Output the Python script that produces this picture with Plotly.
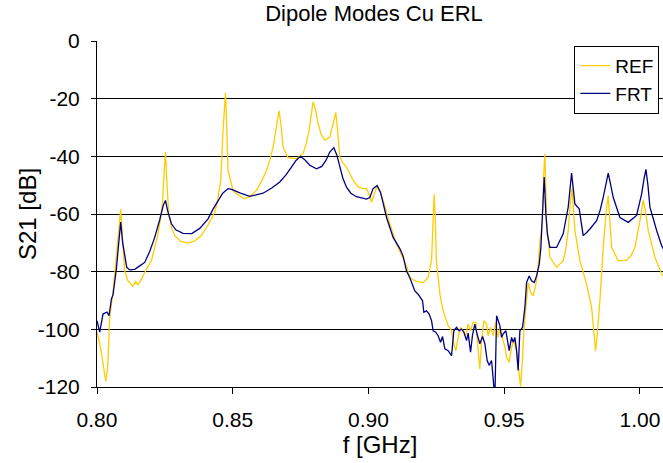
import plotly.graph_objects as go

# ---- data (frequency in GHz, S21 in dB) ----
ref_f = [0.80000, 0.80100, 0.80192, 0.80321, 0.80394, 0.80468, 0.80579, 0.80715, 0.80800, 0.80873,
         0.80947, 0.81021, 0.81131, 0.81316, 0.81426, 0.81500, 0.81574, 0.81695, 0.81832, 0.82005,
         0.82126, 0.82248, 0.82348, 0.82410, 0.82477, 0.82521, 0.82569, 0.82642, 0.82753, 0.82863,
         0.83085, 0.83354, 0.83600, 0.83847, 0.84080, 0.84338, 0.84448, 0.84559, 0.84643, 0.84732,
         0.84780, 0.84828, 0.84890, 0.85012, 0.85137, 0.85443, 0.85627, 0.85874, 0.86070, 0.86243,
         0.86365, 0.86486, 0.86604, 0.86707, 0.86788, 0.86855, 0.87039, 0.87348, 0.87592, 0.87710,
         0.87813, 0.87894, 0.87960, 0.88041, 0.88144, 0.88262, 0.88391, 0.88576, 0.88686, 0.88797,
         0.88871, 0.88944, 0.89055, 0.89191, 0.89434, 0.89608, 0.89803, 0.89928, 0.90032, 0.90113,
         0.90216, 0.90319, 0.90437, 0.90540, 0.90787, 0.91034, 0.91277, 0.91402, 0.91524, 0.91771,
         0.92014, 0.92198, 0.92324, 0.92371, 0.92419, 0.92464, 0.92500, 0.92630, 0.92751, 0.92935,
         0.93061, 0.93145, 0.93219, 0.93304, 0.93392, 0.93488, 0.93577, 0.93672, 0.93761, 0.93857,
         0.93956, 0.94041, 0.94103, 0.94166, 0.94251, 0.94350, 0.94409, 0.94498, 0.94594, 0.94693,
         0.94778, 0.94841, 0.94940, 0.95025, 0.95088, 0.95183, 0.95272, 0.95357, 0.95456, 0.95541,
         0.95603, 0.95677, 0.95725, 0.95799, 0.95884, 0.95972, 0.96068, 0.96167, 0.96252, 0.96314,
         0.96414, 0.96462, 0.96499, 0.96562, 0.96683, 0.96930, 0.97173, 0.97273, 0.97358, 0.97439,
         0.97494, 0.97549, 0.97604, 0.97789, 0.98035, 0.98220, 0.98305, 0.98367, 0.98434, 0.98526,
         0.98648, 0.98747, 0.98832, 0.98894, 0.98957, 0.99200, 0.99510, 0.99668, 0.99815, 1.00000,
         1.00122, 1.00203, 1.00306, 1.00553, 1.00800, 1.00922]
ref_db = [-101, -105, -110, -118, -113, -96, -88, -74, -64, -58.4,
          -70, -79.7, -83, -85, -83.5, -84.5, -83.7, -81.4, -79, -76.2,
          -72, -66.8, -61, -56.4, -45, -38.5, -48, -60, -65, -67.5,
          -69.5, -70.1, -69.3, -67.5, -64, -59.4, -55, -48.3, -31, -18,
          -30, -44.9, -47.2, -51.8, -53, -54.7, -54, -51.8, -48.5, -44.9,
          -41.5, -36.8, -30, -24.2, -30, -36.8, -40.5, -40.8, -39, -35.5,
          -31, -25, -21.1, -23.5, -28.6, -32.5, -34.4, -33.3, -29.5, -24.8,
          -32, -40.2, -42.3, -43.7, -48.3, -50.5, -51.2, -51.2, -53.5, -55.9,
          -53, -50.4, -52.5, -55.3, -63.4, -70.4, -75.5, -78, -82.1, -83.4,
          -83.8, -82, -76, -62, -53.2, -62, -76, -87.8, -93.6, -98.7,
          -100.5, -105, -107.4, -102.8, -99.3, -100.5, -102.2, -98.2, -100.5, -97.6,
          -97.6, -107.4, -113.7, -103.9, -97, -98.2, -102.2, -99.3, -102.2, -97.6,
          -102.8, -99.3, -102.8, -106.2, -109.7, -111.4, -106.2, -103.9, -107.4, -115.4,
          -119.8, -109.7, -100.5, -92.4, -83.8, -87.2, -88.4, -84.4, -77.5, -70,
          -62, -45, -39.1, -62.3, -75, -78.5, -76.2, -72, -65.7, -56,
          -51.2, -58, -65.7, -76.2, -84.3, -92.4, -101, -107.5, -101, -90.1,
          -71.6, -60, -53.6, -62, -71.6, -76.2, -76, -74.5, -71.6, -62.3,
          -55.3, -59, -65.7, -75, -80.8, -82]

frt_f = [0.80000, 0.80100, 0.80221, 0.80369, 0.80442, 0.80531, 0.80590, 0.80715, 0.80781, 0.80873,
         0.80947, 0.81021, 0.81095, 0.81205, 0.81389, 0.81574, 0.81758, 0.81942, 0.82126, 0.82311,
         0.82440, 0.82521, 0.82606, 0.82742, 0.82900, 0.83169, 0.83490, 0.83785, 0.84091, 0.84264,
         0.84459, 0.84632, 0.84828, 0.84964, 0.85259, 0.85627, 0.86118, 0.86438, 0.86733, 0.86954,
         0.87164, 0.87323, 0.87496, 0.87654, 0.87839, 0.88086, 0.88281, 0.88428, 0.88576, 0.88723,
         0.88834, 0.88944, 0.89055, 0.89191, 0.89350, 0.89560, 0.89755, 0.89928, 0.90050, 0.90171,
         0.90319, 0.90444, 0.90547, 0.90665, 0.90909, 0.91155, 0.91277, 0.91402, 0.91524, 0.91708,
         0.91830, 0.91992, 0.92040, 0.92139, 0.92235, 0.92324, 0.92382, 0.92481, 0.92567, 0.92655,
         0.92729, 0.92814, 0.92935, 0.93061, 0.93145, 0.93245, 0.93341, 0.93429, 0.93514, 0.93614,
         0.93672, 0.93761, 0.93835, 0.93919, 0.94004, 0.94103, 0.94203, 0.94288, 0.94373, 0.94446,
         0.94535, 0.94594, 0.94657, 0.94720, 0.94778, 0.94841, 0.94903, 0.94962, 0.95062, 0.95110,
         0.95183, 0.95272, 0.95331, 0.95393, 0.95456, 0.95515, 0.95577, 0.95677, 0.95762, 0.95824,
         0.95920, 0.96009, 0.96105, 0.96193, 0.96289, 0.96352, 0.96414, 0.96473, 0.96536, 0.96591,
         0.96683, 0.96930, 0.97173, 0.97358, 0.97483, 0.97604, 0.97763, 0.97844, 0.97910, 0.98028,
         0.98157, 0.98404, 0.98526, 0.98648, 0.98747, 0.98832, 0.98913, 0.99016, 0.99263, 0.99569,
         0.99878, 1.00063, 1.00147, 1.00221, 1.00295, 1.00369, 1.00616, 1.00800, 1.00922]
frt_db = [-97, -101, -94.7, -94, -95.3, -89.5, -88, -79, -72, -62.8,
          -70, -75, -78.5, -79.4, -79.2, -78, -76.8, -73, -68.1, -62,
          -57, -55.3, -59, -63.4, -65.5, -66.7, -66.8, -65, -61.7, -58.5,
          -55.3, -52.8, -51.2, -51.5, -52.7, -53.9, -52.8, -51, -48.9, -46.5,
          -43.7, -41.5, -40, -41.2, -43.1, -44.3, -43.5, -41.5, -38.5, -37,
          -39.5, -43.7, -47.5, -50.7, -52.8, -54, -54.5, -54.8, -54.3, -51.2,
          -50.1, -52.5, -56.5, -61.2, -68.1, -72, -74.6, -79.8, -82.1, -86.7,
          -87.8, -90.1, -94.1, -93.6, -94.7, -97, -100.5, -101, -102.2, -104.5,
          -102.5, -106.8, -107.4, -109.1, -100.5, -99.3, -100.5, -99.9, -101, -103.9,
          -101.3, -107.9, -101.8, -98.2, -101.8, -105, -102.5, -105, -110.8, -112.5,
          -110.8, -119.4, -124, -95.3, -97, -98.7, -102.8, -101.6, -100.5, -102.8,
          -107.4, -102.8, -104.5, -102.8, -107.4, -114.3, -100.5, -99.3, -92.4, -83.8,
          -81.5, -83.2, -83.8, -81.5, -77.5, -71.6, -56.5, -47.2, -60, -67,
          -71.6, -71.6, -66.9, -57.6, -45.8, -56.5, -58.2, -63, -67.5, -66.5,
          -65.2, -62.3, -59, -54.2, -49, -45.8, -49.5, -54.2, -61.2, -62.9,
          -60.5, -53, -48, -44.5, -50, -57.6, -65.7, -71, -73]

x_ticks = [0.80, 0.85, 0.90, 0.95, 1.00]
x_tick_labels = ["0.80", "0.85", "0.90", "0.95", "1.00"]
y_ticks = [0, -20, -40, -60, -80, -100, -120]
y_tick_labels = ["0", "-20", "-40", "-60", "-80", "-100", "-120"]

FONT = "Liberation Sans, Arial, sans-serif"

fig = go.Figure()
fig.add_trace(go.Scatter(x=ref_f, y=ref_db, mode="lines", name="REF",
                         line=dict(color="#FFCC00", width=1.3)))
fig.add_trace(go.Scatter(x=frt_f, y=frt_db, mode="lines", name="FRT",
                         line=dict(color="#000080", width=1.3)))

fig.update_layout(
    width=663, height=463,
    margin=dict(l=97, r=0, t=41, b=76, autoexpand=False),
    paper_bgcolor="white", plot_bgcolor="white",
    font=dict(family=FONT, color="black"),
    title=dict(text="Dipole Modes Cu ERL", font=dict(size=22, family=FONT, color="black"),
               x=374 / 663, xref="container", xanchor="center",
               y=1 - 13 / 463, yref="container", yanchor="middle"),
    showlegend=True,
    legend=dict(x=0.9935, xanchor="right", y=0.986, yanchor="top",
                bgcolor="white", bordercolor="black", borderwidth=1,
                font=dict(size=19, family=FONT, color="black"),
                itemwidth=30, tracegroupgap=0),
    xaxis=dict(range=[0.8, 1.0085], tickvals=x_ticks, ticktext=x_tick_labels,
               showgrid=False, zeroline=False,
               showline=True, linecolor="black", linewidth=1,
               ticks="outside", ticklen=6, tickcolor="black", ticklabelstandoff=8,
               tickfont=dict(size=21, family=FONT, color="black"),
               title=dict(text="f [GHz]", font=dict(size=24, family=FONT, color="black"), standoff=4)),
    yaxis=dict(range=[-120, 0], tickvals=y_ticks, ticktext=y_tick_labels,
               showgrid=True, gridcolor="black", gridwidth=1, zeroline=False,
               showline=True, linecolor="black", linewidth=1,
               ticks="outside", ticklen=5, tickcolor="black", ticklabelstandoff=7,
               tickfont=dict(size=21, family=FONT, color="black")),
    annotations=[dict(text="S21 [dB]", textangle=-90, showarrow=False,
                      xref="paper", x=(27 - 97) / 566, xanchor="center",
                      yref="paper", y=0.5, yanchor="middle",
                      font=dict(size=24, family=FONT, color="black"))],
)

fig.write_html("out.html", config={"displayModeBar": False},
               post_script="document.body.style.margin='0';")
